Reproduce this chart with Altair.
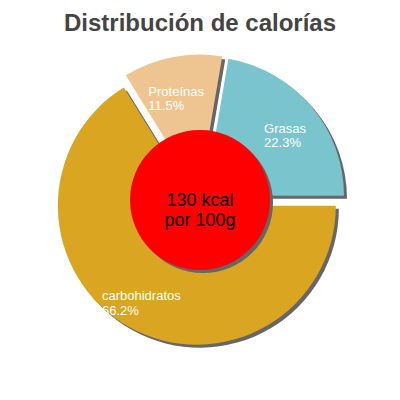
import math
import altair as alt
import pandas as pd

# ---- data ----
names = ["carbohidratos", "Proteínas", "Grasas"]
percents = [66.2, 11.5, 22.3]
colors = ["#DAA520", "#EEC591", "#7AC5CD"]
kcal = 130
center_lines = ["130 kcal", "por 100g"]
title_text = "Distribución de calorías"

# ---- layout constants ----
W, H = 384, 344
PAD_TOP = 40
CX, CY = 192, 152          # pie centre in plot coordinates
R_OUT = 139
R_HOLE = 70
EXPLODE = 6.5
SHADOW = 3
LABEL_R = 104
CHAR_W = 6.8
SHADOW_COLOR = "#666666"

df = pd.DataFrame({"name": names, "value": percents, "order": list(range(len(names)))})

base = alt.Chart(df).transform_joinaggregate(
    total="sum(value)"
).transform_window(
    cum="sum(value)", sort=[alt.SortField("order")], frame=[None, 0]
).transform_calculate(
    t1="PI/2 + 2*PI*datum.cum/datum.total",
).transform_calculate(
    t0="datum.t1 - 2*PI*datum.value/datum.total",
).transform_calculate(
    mid="(datum.t0 + datum.t1)/2",
).transform_calculate(
    cx=f"{CX} + {EXPLODE}*sin(datum.mid)",
    cy=f"{CY} - {EXPLODE}*cos(datum.mid)",
).transform_calculate(
    sx=f"datum.cx + {SHADOW}",
    sy=f"datum.cy + {SHADOW}",
    lx=f"datum.cx + {LABEL_R}*sin(datum.mid) - length(datum.name)*{CHAR_W}/2",
    ly=f"datum.cy - {LABEL_R}*cos(datum.mid)",
    lab="[datum.name, format(datum.value, '.1f') + '%']",
)

shadows = base.mark_arc(radius=R_OUT, color=SHADOW_COLOR).encode(
    theta=alt.Theta("t0:Q", scale=None),
    theta2="t1:Q",
    x=alt.X("sx:Q", scale=None, axis=None),
    y=alt.Y("sy:Q", scale=None, axis=None),
)

slices = base.mark_arc(radius=R_OUT).encode(
    theta=alt.Theta("t0:Q", scale=None),
    theta2="t1:Q",
    x=alt.X("cx:Q", scale=None, axis=None),
    y=alt.Y("cy:Q", scale=None, axis=None),
    color=alt.Color("name:N", scale=alt.Scale(domain=names, range=colors), legend=None),
)

labels = base.mark_text(
    align="left", baseline="middle", fontSize=13, font="Liberation Sans",
    color="white", lineHeight=14.5,
).encode(
    x=alt.X("lx:Q", scale=None, axis=None),
    y=alt.Y("ly:Q", scale=None, axis=None),
    text="lab:N",
)

cdf = pd.DataFrame({"kcal": [kcal]})
cbase = alt.Chart(cdf)

hole_shadow = cbase.mark_arc(radius=R_HOLE, theta=0, theta2=2 * math.pi, color=SHADOW_COLOR).encode(
    x=alt.value(CX + SHADOW), y=alt.value(CY + SHADOW)
)
hole = cbase.mark_arc(radius=R_HOLE, theta=0, theta2=2 * math.pi, color="#FF0000").encode(
    x=alt.value(CX), y=alt.value(CY)
)
center_text = cbase.transform_calculate(
    t="[format(datum.kcal, 'd') + ' kcal', '" + center_lines[1] + "']"
).mark_text(
    align="center", baseline="middle", fontSize=18, font="Liberation Sans",
    color="black", lineHeight=20,
).encode(
    x=alt.value(CX), y=alt.value(CY + 1), text="t:N"
)

chart = alt.layer(
    shadows, slices, hole_shadow, hole, labels, center_text
).properties(
    width=W, height=H,
    padding={"top": PAD_TOP, "left": 0, "right": 0, "bottom": 0},
    autosize=alt.AutoSizeParams(type="none"),
    title=alt.TitleParams(
        title_text, fontSize=24, font="Liberation Sans", fontWeight="bold",
        color="#444444", anchor="middle", offset=12,
    ),
).configure_view(stroke=None)

chart.save("out.html", embed_options={"renderer": "svg", "actions": False})
